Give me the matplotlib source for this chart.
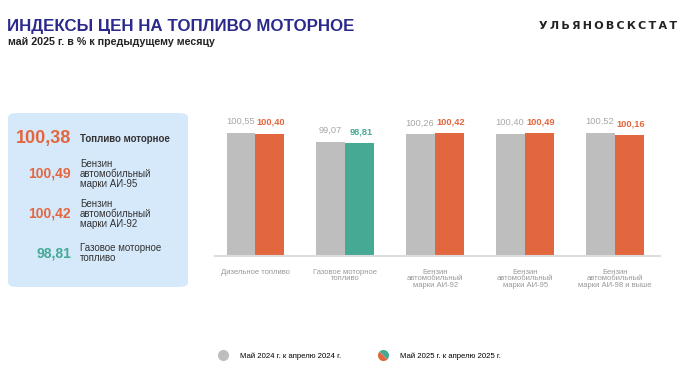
import numpy as np
import matplotlib.pyplot as plt
from matplotlib.patches import FancyBboxPatch
from matplotlib.lines import Line2D
from matplotlib.markers import MarkerStyle
from matplotlib.transforms import Affine2D

plt.rcParams['font.family'] = ['Liberation Sans', 'DejaVu Sans']

# данные
categories = ['Дизельное топливо', 'Газовое моторное\nтопливо',
              'Бензин\nавтомобильный\nмарки АИ-92', 'Бензин\nавтомобильный\nмарки АИ-95',
              'Бензин\nавтомобильный\nмарки АИ-98 и выше']
may_2024 = [100.55, 99.07, 100.26, 100.40, 100.52]
may_2025 = [100.40, 98.81, 100.42, 100.49, 100.16]

panel_values = [100.38, 100.49, 100.42, 98.81]
panel_labels = ['Топливо моторное', 'Бензин\nавтомобильный\nмарки АИ-95',
                'Бензин\nавтомобильный\nмарки АИ-92', 'Газовое моторное\nтопливо']

legend_labels = ['Май 2024 г. к апрелю 2024 г.', 'Май 2025 г. к апрелю 2025 г.']

GRAY = '#BEBEBE'
ORANGE = '#E2673F'
TEAL = '#45A994'
BLUE = '#2B2A8C'

def fmt(v):
    return f'{v:.2f}'.replace('.', ',')

fig = plt.figure(figsize=(7, 3.79), dpi=100)
W, H = 700, 379

def fx(px):
    return px / W

def fy(py):
    return 1 - py / H

# заголовки
fig.text(fx(7), fy(26), 'ИНДЕКСЫ ЦЕН НА ТОПЛИВО МОТОРНОЕ', color=BLUE,
         fontsize=12.2, fontweight='bold', va='center', ha='left')
fig.text(fx(8), fy(42), 'май 2025 г. в % к предыдущему месяцу', color='#222222',
         fontsize=7.7, fontweight='bold', va='center', ha='left')
fig.text(fx(677), fy(26), '\u2009'.join('УЛЬЯНОВСКСТАТ'), color='#222222',
         fontsize=8, fontweight='bold', va='center', ha='right', family='DejaVu Sans')

# левая панель
box = FancyBboxPatch((fx(8), fy(287)), fx(180), (287 - 113) / H,
                     boxstyle='round,pad=0,rounding_size=0.012',
                     transform=fig.transFigure, facecolor='#D6E9FB', edgecolor='none')
fig.patches.append(box)

panel_y = [139, 174, 214, 253]
panel_colors = [ORANGE, ORANGE, ORANGE, TEAL]
panel_sizes = [13, 10, 10, 10]
for i in range(4):
    fig.text(fx(71), fy(panel_y[i]), fmt(panel_values[i]), color=panel_colors[i],
             fontsize=panel_sizes[i], fontweight='bold', ha='right', va='center')
    fig.text(fx(80), fy(panel_y[i]), panel_labels[i], color='#333333',
             fontsize=7, fontweight='bold' if i == 0 else 'normal',
             ha='left', va='center', linespacing=0.95)

# столбцы
ax = fig.add_axes([fx(215), fy(256), fx(660 - 215), (256 - 112) / H])
x = np.arange(len(categories))
w = 0.322
colors_2025 = [TEAL if v < 100 else ORANGE for v in may_2025]
ax.bar(x - w / 2, may_2024, width=w, color=GRAY)
ax.bar(x + w / 2, may_2025, width=w, color=colors_2025)

for i in range(len(x)):
    ax.text(x[i] - w / 2 - 0.01, may_2024[i] + 1.1, fmt(may_2024[i]), color='#A8A8A8',
            fontsize=6.7, ha='center', va='bottom')
    ax.text(x[i] + w / 2 + 0.01, may_2025[i] + 1.1, fmt(may_2025[i]), color=colors_2025[i],
            fontsize=6.7, fontweight='bold', ha='center', va='bottom')

ax.set_xticks(x)
ax.set_xticklabels(categories, fontsize=5.5, color='#999999', linespacing=0.95)
ax.tick_params(axis='x', length=0, pad=9)
ax.set_yticks([])
for s in ['top', 'right', 'left']:
    ax.spines[s].set_visible(False)
ax.spines['bottom'].set_color('#DDDDDD')
ax.spines['bottom'].set_linewidth(1.5)
ax.set_ylim(80, 104)
ax.set_xlim(-0.45, 4.5)

# легенда
half = MarkerStyle('o', fillstyle='left', transform=Affine2D().rotate_deg(45))
handles = [
    Line2D([], [], ls='none', marker='o', markersize=8, color=GRAY, markeredgewidth=0),
    Line2D([], [], ls='none', marker=half, markersize=8, markerfacecolor=ORANGE,
           markerfacecoloralt=TEAL, markeredgewidth=0),
]
fig.legend(handles, legend_labels, loc='center left', bbox_to_anchor=(fx(211), fy(356)),
           ncol=2, frameon=False, fontsize=5.6, handletextpad=1.6, columnspacing=4.8,
           handlelength=1.2)

fig.savefig('out.png', dpi=100)
